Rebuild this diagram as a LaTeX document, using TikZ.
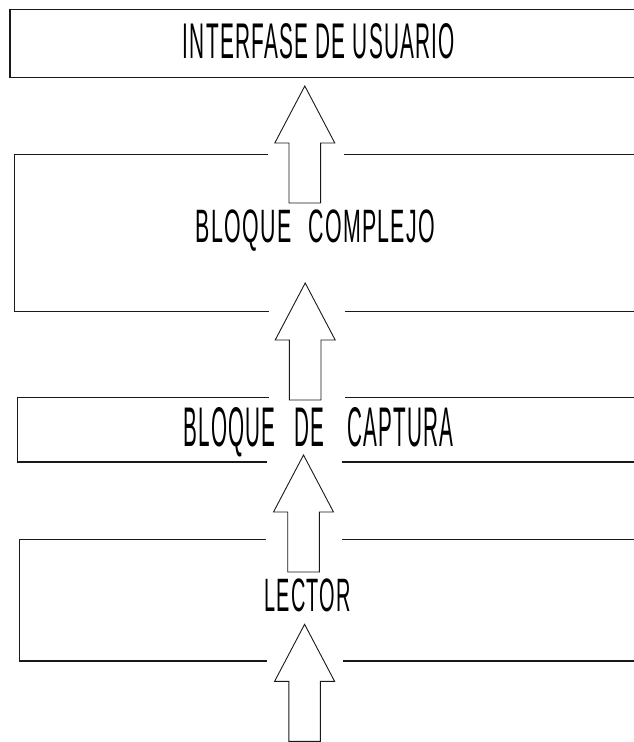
\documentclass[tikz,border=0pt]{standalone}
\usepackage{fontspec}
\setmainfont{Liberation Sans}
\newfontfamily\lblfont[LetterSpace=6]{Liberation Sans}
\begin{document}
\begin{tikzpicture}[x=1pt,y=-1pt,
  frame/.style={draw=black!90, line width=1.3pt},
  arrowshape/.style={draw=black!90, line width=0.9pt, fill=white, line join=miter},
  lbl/.style={inner sep=0pt, anchor=base, font=\lblfont},
  uparrow/.pic={
    \draw[arrowshape] (0,0) -- (30,57) -- (15.8,57) -- (15.8,117) -- (-15.8,117)
      -- (-15.8,57) -- (-30,57) -- cycle;
  }]
\useasboundingbox (0,0) rectangle (634,742);
\fill[white] (0,0) rectangle (634,742);

% box 1 (INTERFASE DE USUARIO)
\draw[frame] (634,9.5) -- (10,9.5) -- (10,77.5) -- (634,77.5);
% box 2 (BLOQUE COMPLEJO)
\draw[frame] (267.7,154.3) -- (14.8,154.3) -- (14.8,311.7) -- (269,311.7);
\draw[frame] (344,154.3) -- (634,154.3);
\draw[frame] (345,311.7) -- (634,311.7);
% box 3 (BLOQUE DE CAPTURA)
\draw[frame] (269,397.3) -- (17.8,397.3) -- (17.8,462) -- (266.7,462);
\draw[frame] (345,397.3) -- (634,397.3);
\draw[frame] (341.7,462) -- (634,462);
% box 4 (LECTOR)
\draw[frame] (266,539.3) -- (19.3,539.3) -- (19.3,661) -- (267.3,661);
\draw[frame] (342,539.3) -- (634,539.3);
\draw[frame] (343.3,661) -- (634,661);

% arrows
\coordinate (a1) at (304.8,86);
\coordinate (a2) at (305.2,283);
\coordinate (a3) at (303.5,455);
\coordinate (a4) at (304.6,624.3);
\pic at (a1) {uparrow};
\pic at (a2) {uparrow};
\pic at (a3) {uparrow};
\pic at (a4) {uparrow};

% labels
\node[lbl] (t1) at (319,58.3) {\resizebox{272pt}{35pt}{INTERFASE DE USUARIO}};
\node[lbl] (t2) at (315.5,242.7) {\resizebox{239pt}{32.7pt}{BLOQUE\hspace{0.8em}COMPLEJO}};
\node[lbl] (t3) at (318.3,446.7) {\resizebox{270pt}{39pt}{BLOQUE\hspace{0.9em}DE\hspace{1.1em}CAPTURA}};
\node[lbl] (t4) at (307.5,611) {\resizebox{86.4pt}{32.7pt}{LECTOR}};
\end{tikzpicture}
\end{document}
